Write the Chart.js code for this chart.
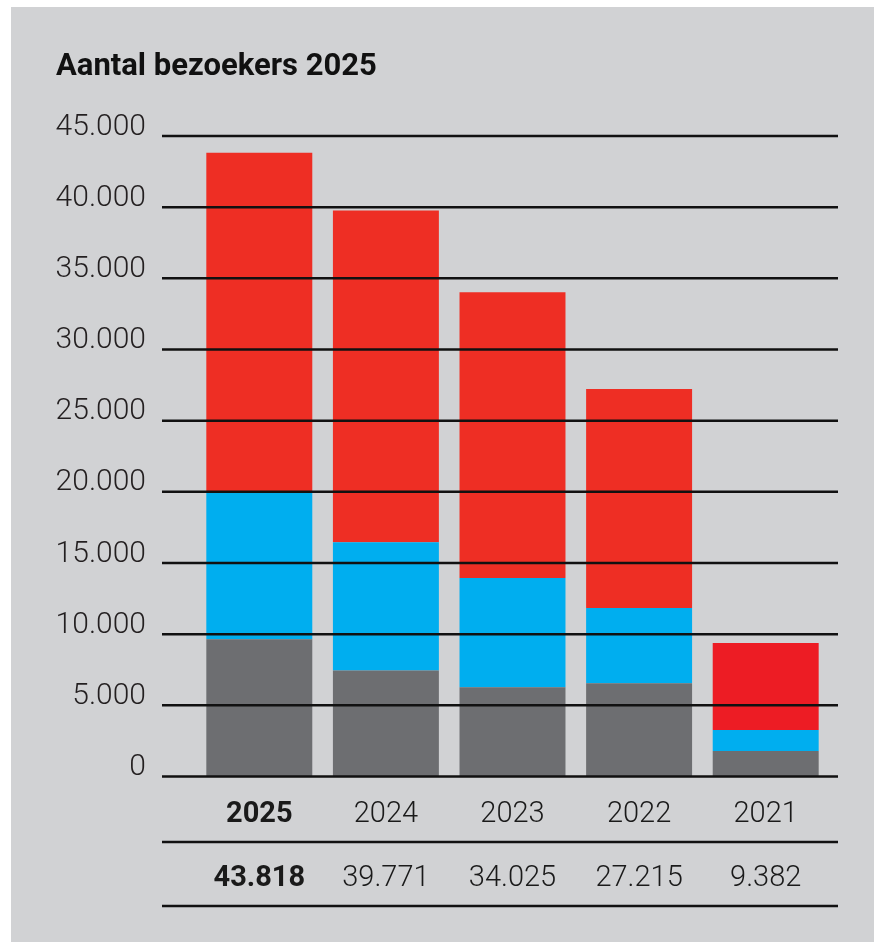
<!DOCTYPE html>
<html>
<head>
<meta charset="utf-8">
<script src="https://cdn.jsdelivr.net/npm/chart.js@4"></script>
<style>
  body { margin: 0; background: #fff; }
  #panel { position: absolute; left: 11px; top: 7px; width: 863px; height: 935px; background: #d1d2d4; }
  #wrap { position: absolute; left: 0; top: 0; width: 874px; height: 942px; }
</style>
</head>
<body>
<div id="panel"></div>
<div id="wrap"><canvas id="chart" width="874" height="942"></canvas></div>
<script>
// data
const years = ['2025', '2024', '2023', '2022', '2021'];
const totals = [43818, 39771, 34025, 27215, 9382];
const grayValues = [9650, 7450, 6270, 6560, 1790];
const blueValues = [10300, 9000, 7680, 5270, 1470];
const redValues = [23870, 23320, 20080, 15390, 6120];
const redColors = ['#ee2e24', '#ee2e24', '#ee2e24', '#ee2e24', '#ed1c24'];
const yTicks = [0, 5000, 10000, 15000, 20000, 25000, 30000, 35000, 40000, 45000];

function dots(n) {
    return String(n).replace(/\B(?=(\d{3})+(?!\d))/g, '.');
}

const FONT = 'Roboto, "DejaVu Sans", sans-serif';

const decorations = {
    id: 'decorations',
    beforeDraw(chart) {
        const c = chart.ctx;
        c.save();
        c.fillStyle = '#111';
        c.font = 'bold 31px ' + FONT;
        c.textBaseline = 'alphabetic';
        c.fillText('Aantal bezoekers 2025', 56, 75);
        c.restore();
    },
    afterDatasetsDraw(chart) {
        const c = chart.ctx;
        const area = chart.chartArea;
        const y = chart.scales.y;
        const x0 = area.left - 34;
        const x1 = area.right + 9;
        c.save();
        c.strokeStyle = '#111';
        c.lineWidth = 2.5;
        const rows = yTicks.map(v => y.getPixelForValue(v));
        rows.push(area.bottom + 65.5, area.bottom + 129.5);
        rows.forEach(py => {
            c.beginPath();
            c.moveTo(x0, py);
            c.lineTo(x1, py);
            c.stroke();
        });
        c.restore();
    }
};

new Chart(document.getElementById('chart'), {
    type: 'bar',
    data: {
        labels: years.map((yr, i) => [yr, dots(totals[i])]),
        datasets: [
            { label: 'grijs', data: grayValues, backgroundColor: '#6d6e71' },
            { label: 'blauw', data: blueValues, backgroundColor: '#00aeef' },
            { label: 'rood', data: redValues, backgroundColor: redColors }
        ]
    },
    options: {
        responsive: false,
        animation: false,
        layout: { padding: { top: 136, right: 45, left: 0, bottom: 0 } },
        datasets: {
            bar: { categoryPercentage: 1, barPercentage: 0.837, borderWidth: 0 }
        },
        plugins: {
            legend: { display: false },
            tooltip: { enabled: false },
            title: { display: false }
        },
        scales: {
            x: {
                stacked: true,
                border: { display: false },
                grid: { display: false, drawTicks: false },
                afterFit(scale) { scale.height = 165.5; },
                ticks: {
                    padding: 6,
                    color: '#1a1a1a',
                    maxRotation: 0,
                    autoSkip: false,
                    font: ctx => ({
                        family: FONT,
                        size: 29,
                        weight: ctx.index === 0 ? 'bold' : '300',
                        lineHeight: 64 / 29
                    })
                }
            },
            y: {
                stacked: true,
                min: 0,
                max: 45000,
                border: { display: false },
                grid: { display: false, drawTicks: false },
                afterFit(scale) { scale.width = 196; },
                afterBuildTicks(scale) { scale.ticks = yTicks.map(v => ({ value: v })); },
                ticks: {
                    padding: 50,
                    labelOffset: -9,
                    color: '#231f20',
                    font: { family: FONT, size: 30, weight: '300' },
                    callback: v => dots(v)
                }
            }
        }
    },
    plugins: [decorations]
});
</script>
</body>
</html>
